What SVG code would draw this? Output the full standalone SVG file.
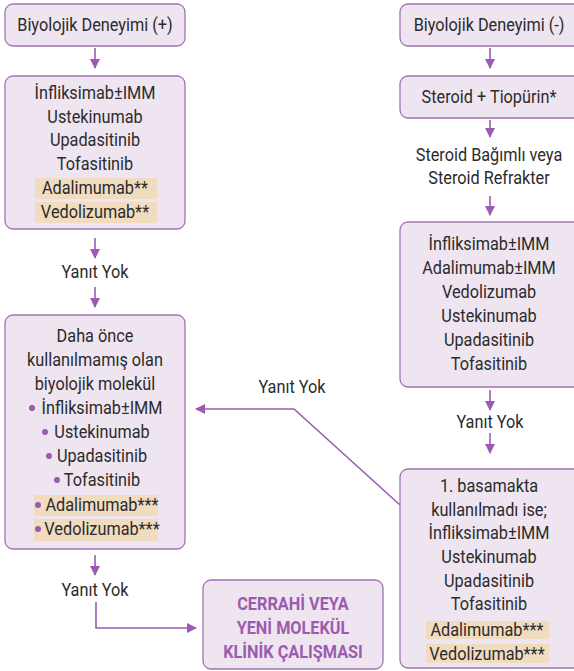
<svg xmlns="http://www.w3.org/2000/svg" width="574" height="671" viewBox="0 0 574 671">
<defs>
<style>
.box{fill:#efe5f1;stroke:#a173b3;stroke-width:1.3}
.hl{fill:#f1dcc0}
.t{font-family:Roboto,"Liberation Sans",Arial,sans-serif;font-size:18.5px;fill:#2b2b2b;text-anchor:middle}
.b{font-family:Roboto,"Liberation Sans",Arial,sans-serif;font-size:18.5px;font-weight:bold;fill:#9b5caf;text-anchor:middle}
.c{fill:none;stroke:#9b5caf;stroke-width:1.6}
.dot{fill:#9b5caf}
</style>
<marker id="ah" viewBox="0 0 10 10" refX="9" refY="5" markerWidth="10" markerHeight="10" markerUnits="userSpaceOnUse" orient="auto">
<path d="M0,0 L10,5 L0,10 z" fill="#9b5caf"/>
</marker>
</defs>

<g id="connectors">
<line class="c" x1="95" y1="48" x2="95" y2="68" marker-end="url(#ah)"/>
<line class="c" x1="95" y1="238" x2="95" y2="258" marker-end="url(#ah)"/>
<line class="c" x1="95" y1="287" x2="95" y2="307" marker-end="url(#ah)"/>
<line class="c" x1="95" y1="555" x2="95" y2="575" marker-end="url(#ah)"/>
<polyline class="c" points="96,602 96,628 196,628" marker-end="url(#ah)"/>
<line class="c" x1="490" y1="48" x2="490" y2="68" marker-end="url(#ah)"/>
<line class="c" x1="490" y1="120" x2="490" y2="137" marker-end="url(#ah)"/>
<line class="c" x1="490" y1="196" x2="490" y2="215" marker-end="url(#ah)"/>
<line class="c" x1="490" y1="390" x2="490" y2="410" marker-end="url(#ah)"/>
<line class="c" x1="490" y1="433" x2="490" y2="453" marker-end="url(#ah)"/>
<polyline class="c" points="400,505 294,409 196,409" marker-end="url(#ah)" stroke-width="1.3"/>
<g transform="translate(292,0) scale(0.88,1)"><text class="t" x="0" y="393">Yanıt Yok</text></g>
<g transform="translate(95,0) scale(0.88,1)">
<text class="t" x="0" y="278">Yanıt Yok</text>
<text class="t" x="0" y="596">Yanıt Yok</text>
</g>
<g transform="translate(490,0) scale(0.88,1)"><text class="t" x="0" y="428">Yanıt Yok</text></g>
</g>

<g id="bio-pos">
<rect class="box" x="5" y="4" width="180" height="42" rx="8"/>
<g transform="translate(95,0) scale(0.88,1)">
<text class="t" x="0" y="31">Biyolojik Deneyimi (+)</text>
</g>
</g>

<g id="first-line-pos">
<rect class="box" x="5" y="76" width="180" height="153" rx="8"/>
<rect class="hl" x="35" y="178" width="122" height="21"/>
<rect class="hl" x="35" y="202" width="122" height="21"/>
<g transform="translate(95,0) scale(0.88,1)">
<text class="t" x="0" y="99">İnfliksimab±IMM</text>
<text class="t" x="0" y="123">Ustekinumab</text>
<text class="t" x="0" y="146">Upadasitinib</text>
<text class="t" x="0" y="170">Tofasitinib</text>
<text class="t" x="0" y="194">Adalimumab**</text>
<text class="t" x="0" y="218">Vedolizumab**</text>
</g>
</g>

<g id="second-line-pos">
<rect class="box" x="5" y="315" width="180" height="234" rx="8"/>
<rect class="hl" x="34" y="495" width="124" height="21"/>
<rect class="hl" x="34" y="519" width="124" height="22"/>
<circle class="dot" cx="32" cy="408" r="3"/>
<circle class="dot" cx="45" cy="432" r="3"/>
<circle class="dot" cx="49" cy="456" r="3"/>
<circle class="dot" cx="57" cy="480" r="3"/>
<circle class="dot" cx="38" cy="505" r="3"/>
<circle class="dot" cx="38" cy="529" r="3"/>
<g transform="translate(95,0) scale(0.88,1)">
<text class="t" x="0" y="342">Daha önce</text>
<text class="t" x="0" y="366">kullanılmamış olan</text>
<text class="t" x="0" y="390">biyolojik molekül</text>
</g>
<g transform="translate(102,0) scale(0.88,1)">
<text class="t" x="0" y="414">İnfliksimab±IMM</text>
<text class="t" x="0" y="438">Ustekinumab</text>
<text class="t" x="0" y="462">Upadasitinib</text>
<text class="t" x="0" y="486">Tofasitinib</text>
<text class="t" x="0" y="511">Adalimumab***</text>
<text class="t" x="0" y="535">Vedolizumab***</text>
</g>
</g>

<g id="surgery">
<rect class="box" x="203" y="580" width="180" height="89" rx="8"/>
<g transform="translate(293,0) scale(0.88,1)">
<text class="b" x="0" y="610">CERRAHİ VEYA</text>
<text class="b" x="0" y="634">YENİ MOLEKÜL</text>
<text class="b" x="0" y="658">KLİNİK ÇALIŞMASI</text>
</g>
</g>

<g id="bio-neg">
<rect class="box" x="400" y="4" width="185" height="42" rx="8"/>
<g transform="translate(489,0) scale(0.88,1)">
<text class="t" x="0" y="31">Biyolojik Deneyimi (-)</text>
</g>
</g>

<g id="steroid">
<rect class="box" x="400" y="76" width="185" height="42" rx="8"/>
<g transform="translate(489,0) scale(0.88,1)">
<text class="t" x="0" y="103">Steroid + Tiopürin*</text>
</g>
</g>

<g id="steroid-state">
<g transform="translate(489,0) scale(0.88,1)">
<text class="t" x="0" y="161">Steroid Bağımlı veya</text>
<text class="t" x="0" y="184">Steroid Refrakter</text>
</g>
</g>

<g id="first-line-neg">
<rect class="box" x="400" y="222" width="185" height="165" rx="8"/>
<g transform="translate(489,0) scale(0.88,1)">
<text class="t" x="0" y="250">İnfliksimab±IMM</text>
<text class="t" x="0" y="274">Adalimumab±IMM</text>
<text class="t" x="0" y="298">Vedolizumab</text>
<text class="t" x="0" y="322">Ustekinumab</text>
<text class="t" x="0" y="346">Upadasitinib</text>
<text class="t" x="0" y="370">Tofasitinib</text>
</g>
</g>

<g id="second-line-neg">
<rect class="box" x="400" y="469" width="185" height="199" rx="8"/>
<rect class="hl" x="426" y="621" width="123" height="18"/>
<rect class="hl" x="426" y="644" width="123" height="19"/>
<g transform="translate(489,0) scale(0.88,1)">
<text class="t" x="0" y="492">1. basamakta</text>
<text class="t" x="0" y="516">kullanılmadı ise;</text>
<text class="t" x="0" y="539">İnfliksimab±IMM</text>
<text class="t" x="0" y="563">Ustekinumab</text>
<text class="t" x="0" y="587">Upadasitinib</text>
<text class="t" x="0" y="610">Tofasitinib</text>
</g>
<g transform="translate(487,0) scale(0.88,1)">
<text class="t" x="0" y="636">Adalimumab***</text>
<text class="t" x="0" y="660">Vedolizumab***</text>
</g>
</g>
</svg>
